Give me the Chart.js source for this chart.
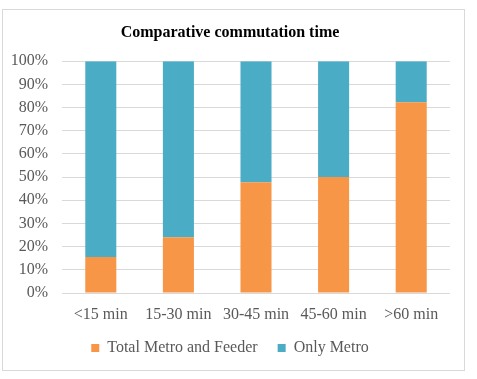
<!DOCTYPE html>
<html>
<head>
<meta charset="utf-8">
<script src="https://cdn.jsdelivr.net/npm/chart.js@4"></script>
<style>
html,body{margin:0;padding:0;background:#fff;}
#wrap{width:477px;height:379px;position:relative;}
</style>
</head>
<body>
<div id="wrap"><canvas id="c" width="477" height="379"></canvas></div>
<script>
const categories = ['<15 min', '15-30 min', '30-45 min', '45-60 min', '>60 min'];
const metroFeeder = [15.5, 24, 47.8, 50, 82.3];
const onlyMetro = [84.5, 76, 52.2, 50, 17.7];
const yTicks = [0, 10, 20, 30, 40, 50, 60, 70, 80, 90, 100];

const frame = {
  id: 'frame',
  beforeDraw(chart) {
    const ctx = chart.ctx;
    ctx.save();
    ctx.fillStyle = '#fff';
    ctx.fillRect(0, 0, chart.width, chart.height);
    ctx.strokeStyle = '#D9D9D9';
    ctx.lineWidth = 1;
    ctx.strokeRect(2.5, 9.5, 462, 361);
    ctx.restore();
  }
};

new Chart(document.getElementById('c'), {
  type: 'bar',
  data: {
    labels: categories,
    datasets: [
      { label: 'Total Metro and Feeder', data: metroFeeder, backgroundColor: '#F79646', borderWidth: 0 },
      { label: 'Only Metro', data: onlyMetro, backgroundColor: '#4BACC6', borderWidth: 0 }
    ]
  },
  plugins: [frame],
  options: {
    responsive: false,
    animation: false,
    devicePixelRatio: 1,
    layout: { padding: { left: 10, right: 27, top: 20, bottom: 13 } },
    datasets: { bar: { barPercentage: 0.4, categoryPercentage: 1.0 } },
    plugins: {
      title: {
        display: true,
        text: 'Comparative commutation time',
        color: '#000',
        font: { family: '"Liberation Serif", "Times New Roman", serif', size: 16, weight: 'bold' },
        padding: { top: 3, bottom: 19 }
      },
      legend: {
        position: 'bottom',
        labels: {
          color: '#595959',
          font: { family: '"Liberation Serif", "Times New Roman", serif', size: 16 },
          boxWidth: 8, boxHeight: 8, padding: 20
        }
      },
      tooltip: { enabled: false }
    },
    scales: {
      x: {
        stacked: true,
        grid: { display: false, drawTicks: false },
        border: { display: false },
        ticks: {
          color: '#595959', padding: 12, maxRotation: 0,
          font: { family: '"Liberation Serif", "Times New Roman", serif', size: 16 }
        },
        afterFit(s) { s.height = 27; }
      },
      y: {
        stacked: true,
        min: 0, max: 100,
        afterBuildTicks(s) { s.ticks = yTicks.map(v => ({ value: v })); },
        grid: { color: '#D9D9D9', drawTicks: false, lineWidth: 1 },
        border: { display: false },
        ticks: {
          color: '#595959', padding: 14,
          font: { family: '"Liberation Serif", "Times New Roman", serif', size: 16 },
          callback: v => v + '%'
        },
        afterFit(s) { s.width = 52; }
      }
    }
  }
});
</script>
</body>
</html>
